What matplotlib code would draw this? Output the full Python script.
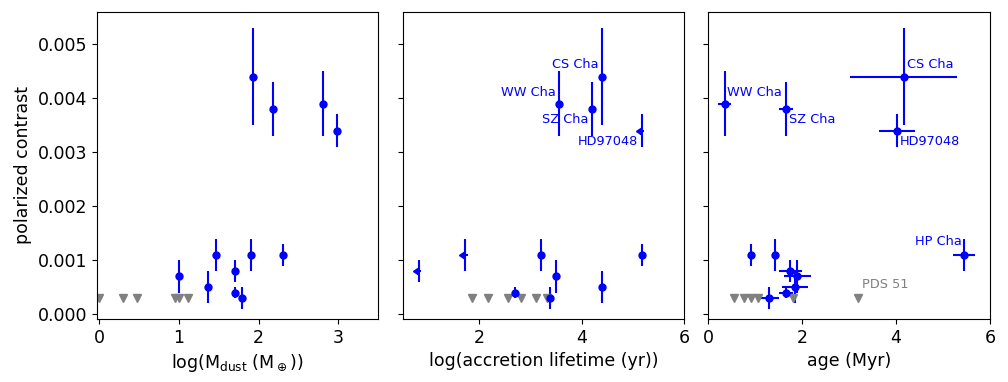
import matplotlib
matplotlib.use('Agg')
import matplotlib.pyplot as plt
from matplotlib.markers import CARETLEFTBASE
import numpy as np

# detected discs: CS Cha, SZ Cha, WW Cha, HD97048, then the fainter ones
pol = [0.0044, 0.0038, 0.0039, 0.0034, 0.0007, 0.0005, 0.0011, 0.0011, 0.0008, 0.0004, 0.0003, 0.0011]
pol_err = [0.0009, 0.0005, 0.0006, 0.0003, 0.0003, 0.0003, 0.0003, 0.0003, 0.0002, 0.0001, 0.0002, 0.0002]
log_mdust = [1.93, 2.18, 2.81, 2.98, 1.00, 1.37, 1.47, 1.91, 1.71, 1.71, 1.79, 2.31]
log_acc = [4.40, 4.21, 3.55, 5.17, 3.50, 4.40, 1.73, 3.20, 0.83, 2.70, 3.39, 5.18]
acc_uplim = [False, False, False, True, False, False, True, False, True, False, False, False]
age = [4.16, 1.66, 0.35, 4.02, 1.90, 1.85, 1.42, 5.45, 1.75, 1.65, 1.30, 0.91]
age_err = [1.14, 0.15, 0.14, 0.39, 0.29, 0.28, 0.05, 0.24, 0.24, 0.15, 0.20, 0.05]

# non-detections (upper limits)
nd_pol = [0.0003, 0.0003, 0.0003, 0.0003, 0.0003, 0.0003]
nd_mdust = [0.0, 0.30, 0.48, 0.95, 1.00, 1.11]
nd_acc = [1.86, 2.17, 2.57, 2.82, 3.11, 3.32]
nd_age = [0.55, 0.75, 0.91, 1.06, 1.81, 3.20]

plt.rcParams['font.size'] = 12.5

pol = np.array(pol)
pol_err = np.array(pol_err)
log_acc = np.array(log_acc)
acc_uplim = np.array(acc_uplim)

fig, axes = plt.subplots(1, 3, figsize=(10.08, 3.82), dpi=100, sharey=True)
fig.subplots_adjust(left=0.0959, right=0.982, bottom=0.165, top=0.969, wspace=0.0865)
ax1, ax2, ax3 = axes

# panel 1: dust mass
ax1.errorbar(log_mdust, pol, yerr=pol_err, fmt='o', color='b', ms=5)
ax1.plot(nd_mdust, nd_pol, 'v', color='gray', ms=6)
ax1.set_xlim(-0.03, 3.5)
ax1.set_xticks([0, 1, 2, 3])
ax1.set_xlabel(r'log(M$_{\rm dust}$ (M$_\oplus$))')
ax1.set_ylabel('polarized contrast')

# panel 2: accretion lifetime (upper limits drawn with a left caret)
det = ~acc_uplim
ax2.errorbar(log_acc[det], pol[det], yerr=pol_err[det], fmt='o', color='b', ms=5)
ax2.errorbar(log_acc[acc_uplim], pol[acc_uplim], yerr=pol_err[acc_uplim], xerr=0.04,
             marker=CARETLEFTBASE, ls='none', color='b', ms=6)
ax2.plot(nd_acc, nd_pol, 'v', color='gray', ms=6)
ax2.set_xlim(0.5, 6)
ax2.set_xticks([2, 4, 6])
ax2.set_xlabel('log(accretion lifetime (yr))')
lab = dict(color='b', fontsize=9.3, va='center')
ax2.text(3.50, 0.0041, 'WW Cha', ha='right', **lab)
ax2.text(4.32, 0.00463, 'CS Cha', ha='right', **lab)
ax2.text(4.14, 0.0036, 'SZ Cha', ha='right', **lab)
ax2.text(5.10, 0.0032, 'HD97048', ha='right', **lab)

# panel 3: age
ax3.errorbar(age, pol, yerr=pol_err, xerr=age_err, fmt='o', color='b', ms=5)
ax3.plot(nd_age, nd_pol, 'v', color='gray', ms=6)
ax3.set_xlim(0, 6)
ax3.set_xticks([0, 2, 4, 6])
ax3.set_xlabel('age (Myr)')
ax3.text(0.40, 0.0041, 'WW Cha', ha='left', **lab)
ax3.text(1.71, 0.0036, 'SZ Cha', ha='left', **lab)
ax3.text(4.23, 0.00463, 'CS Cha', ha='left', **lab)
ax3.text(4.07, 0.0032, 'HD97048', ha='left', **lab)
ax3.text(5.40, 0.00134, 'HP Cha', ha='right', **lab)
ax3.text(3.27, 0.00054, 'PDS 51', ha='left', color='gray', fontsize=9.3, va='center')

ax1.set_ylim(-0.00009, 0.0056)
ax1.set_yticks([0.0, 0.001, 0.002, 0.003, 0.004, 0.005])
ax1.set_yticklabels(['0.000', '0.001', '0.002', '0.003', '0.004', '0.005'])

fig.savefig('out.png', dpi=100)
